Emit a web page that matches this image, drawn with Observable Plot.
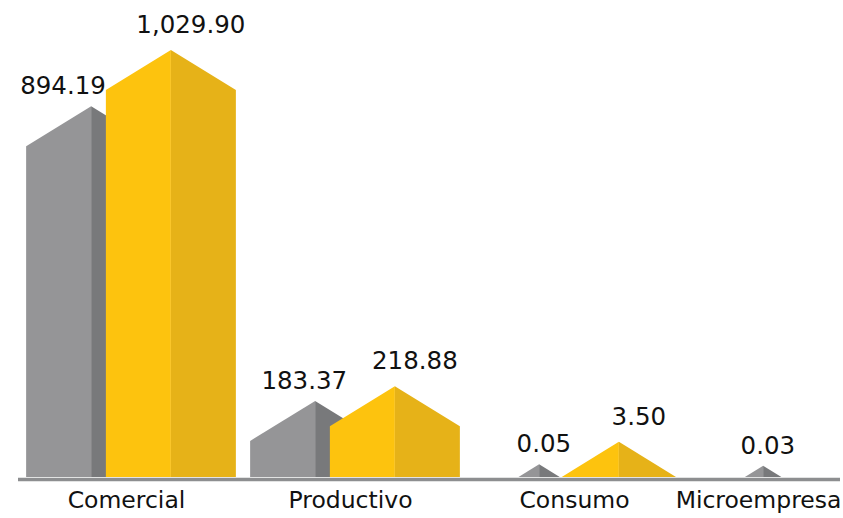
<!DOCTYPE html>
<html>
<head>
<meta charset="utf-8">
<script src="https://cdn.jsdelivr.net/npm/d3@7"></script>
<script src="https://cdn.jsdelivr.net/npm/@observablehq/plot@0.6"></script>
<style>
  html, body { margin: 0; padding: 0; background: #ffffff; }
  #chart svg { display: block; }
</style>
</head>
<body>
<div id="chart"></div>
<script>
// ---- data ----
const categories = ["Comercial", "Productivo", "Consumo", "Microempresa"];
const seriesNames = ["Serie gris", "Serie amarilla"];
const grayValues = [894.19, 183.37, 0.05, 0.03];
const yellowValues = [1029.90, 218.88, 3.50, null];

const palette = {
  "Serie gris": { left: "#959597", right: "#78797b" },
  "Serie amarilla": { left: "#fdc30e", right: "#e6b218" }
};

const data = [];
categories.forEach((c, i) => {
  if (grayValues[i] != null) data.push({ cat: c, series: seriesNames[0], value: grayValues[i] });
  if (yellowValues[i] != null) data.push({ cat: c, series: seriesNames[1], value: yellowValues[i] });
});

const fmt = d3.format(",.2f");
const FONT = "'DejaVu Sans', Verdana, sans-serif";

function houseRender(index, scales, values, dimensions) {
  const x = scales.x, y = scales.y;
  const bw = x.bandwidth();
  const off = bw * 0.178;
  const y0 = y(0);
  const ROOF = 40, HW = 65;
  const g = d3.create("svg:g");
  const shapes = Array.from(index, i => {
    const d = data[i];
    const cx = x(d.cat) + bw / 2 + (d.series === seriesNames[0] ? -off : off);
    const roof = ROOF * Math.min(1, Math.pow(d.value / 6, 0.24));
    const hw = roof * (HW / ROOF);
    const h = Math.max(y0 - y(d.value), roof);
    return { d, cx, roof, hw, h };
  });
  // draw gray first, then yellow on top
  const order = shapes.slice().sort((a, b) => (a.d.series === seriesNames[0] ? 0 : 1) - (b.d.series === seriesNames[0] ? 0 : 1));
  for (const s of order) {
    const col = palette[s.d.series];
    const top = y0 - s.h, shoulder = y0 - s.h + s.roof;
    g.append("polygon")
      .attr("points", [[s.cx - s.hw, y0], [s.cx - s.hw, shoulder], [s.cx, top], [s.cx, y0]].join(" "))
      .attr("fill", col.left);
    g.append("polygon")
      .attr("points", [[s.cx, y0], [s.cx, top], [s.cx + s.hw, shoulder], [s.cx + s.hw, y0]].join(" "))
      .attr("fill", col.right);
  }
  // value labels
  for (const s of shapes) {
    const isGray = s.d.series === seriesNames[0];
    const top = y0 - s.h;
    const baseline = top - (isGray ? 12 : 17);
    const t = g.append("text")
      .attr("font-family", FONT)
      .attr("font-size", 24.5)
      .attr("fill", "#111")
      .attr("y", baseline)
      .text(fmt(s.d.value));
    if (isGray) {
      let endX = s.cx + 32;
      const partner = shapes.find(o => o.d.cat === s.d.cat && o.d.series === seriesNames[1]);
      if (partner) {
        const leftEdge = partner.cx - partner.hw;
        const leftTop = y0 - partner.h + partner.roof;
        if (leftTop < baseline + 4 && partner.h > partner.roof) endX = Math.min(endX, leftEdge);
      }
      t.attr("x", endX).attr("text-anchor", "end");
    } else {
      t.attr("x", s.cx + 20).attr("text-anchor", "middle");
    }
  }
  return g.node();
}

const plot = Plot.plot({
  width: 843,
  height: 518,
  marginTop: 50,
  marginBottom: 41,
  marginLeft: 18,
  marginRight: 3,
  style: { fontFamily: FONT, background: "#ffffff" },
  x: { type: "band", domain: categories, range: [18, 915], padding: 0, axis: null },
  y: { domain: [0, 1029.90], axis: null },
  marks: [
    Plot.barY(data, { x: "cat", y: "value", render: houseRender }),
    Plot.ruleY([0], { stroke: "#8d8e90", strokeWidth: 3.5, dy: 2 }),
    Plot.text(categories.slice(0, 3), {
      x: d => d, frameAnchor: "bottom", dy: 30, dx: -5, fontSize: 23.5, fill: "#111", fontFamily: FONT
    }),
    Plot.text(categories.slice(3), {
      x: d => d, frameAnchor: "bottom", dy: 30, dx: -45, fontSize: 23.5, fill: "#111", fontFamily: FONT
    })
  ]
});

document.getElementById("chart").appendChild(plot);
</script>
</body>
</html>
